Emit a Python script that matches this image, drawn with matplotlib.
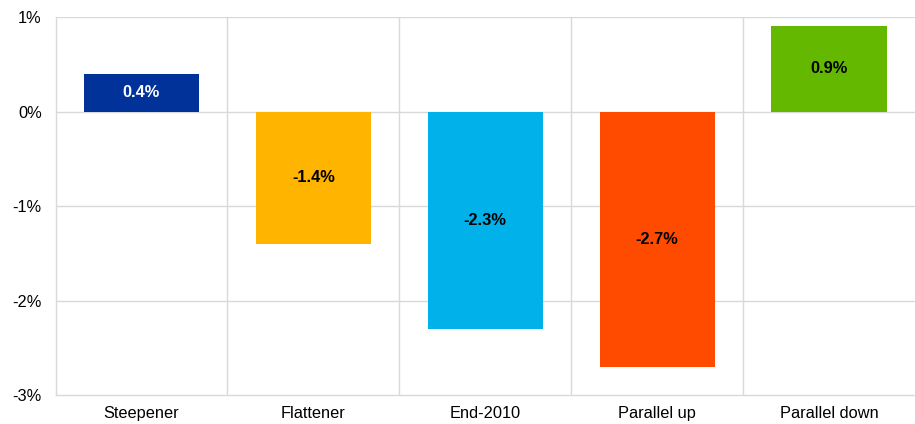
import matplotlib
matplotlib.use('Agg')
import matplotlib.pyplot as plt
from matplotlib.ticker import FuncFormatter

plt.rcParams['font.family'] = ['Liberation Sans', 'DejaVu Sans']

categories = ['Steepener', 'Flattener', 'End-2010', 'Parallel up', 'Parallel down']
values = [0.4, -1.4, -2.3, -2.7, 0.9]
colors = ['#003299', '#FFB400', '#00B1EA', '#FF4B00', '#65B800']
label_colors = ['white', 'black', 'black', 'black', 'black']

fig = plt.figure(figsize=(9.15, 4.24), dpi=100)
ax = fig.add_axes([0.0607, 0.068, 0.9393, 0.892])

x = list(range(len(categories)))
ax.bar(x, values, width=0.67, color=colors, zorder=3)

for xi, v, c in zip(x, values, label_colors):
    ax.text(xi, v / 2, f'{v:.1f}%', ha='center', va='center',
            color=c, fontweight='bold', fontsize=11.8, zorder=4)

ax.set_xlim(-0.5, len(categories) - 0.5)
ax.set_ylim(-3, 1)
ax.set_yticks([1, 0, -1, -2, -3])
ax.yaxis.set_major_formatter(FuncFormatter(lambda v, p: f'{v:.0f}%'))
ax.set_xticks(x)
ax.set_xticklabels(categories)

# gridlines
for yv in [1, 0, -1, -2]:
    ax.axhline(yv, color='#D9D9D9', lw=1, zorder=1)
for xv in [0.5, 1.5, 2.5, 3.5]:
    ax.axvline(xv, color='#D9D9D9', lw=1, zorder=1)

for s in ['top', 'right']:
    ax.spines[s].set_visible(False)
for s in ['left', 'bottom']:
    ax.spines[s].set_color('#D9D9D9')
    ax.spines[s].set_linewidth(1)

ax.tick_params(axis='both', length=0, labelsize=11.8, colors='black')
ax.tick_params(axis='x', pad=8)
ax.tick_params(axis='y', pad=10)

fig.savefig('out.png', dpi=100)
